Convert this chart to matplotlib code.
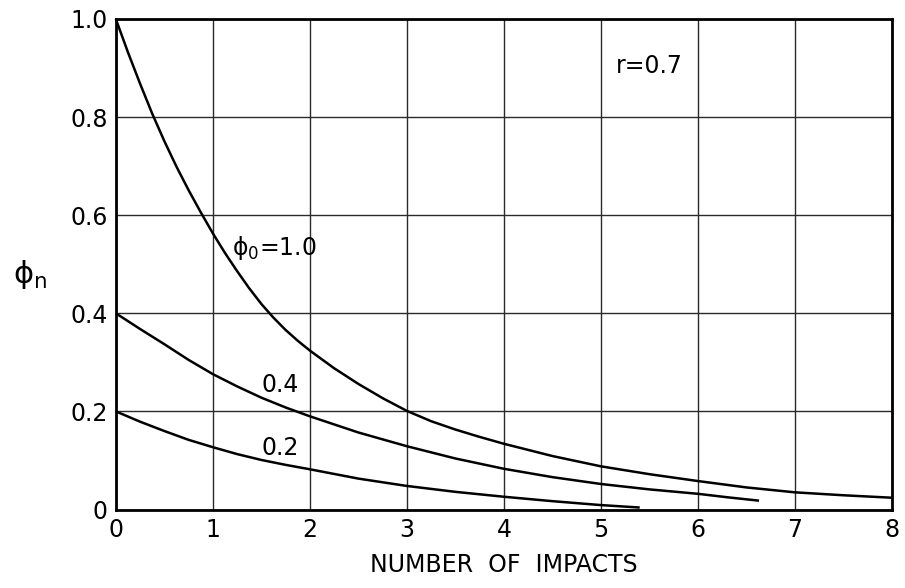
import matplotlib
matplotlib.use("Agg")
import matplotlib.pyplot as plt

plt.rcParams['font.family'] = ['DejaVu Sans']
plt.rcParams['mathtext.fontset'] = 'dejavusans'

# phi_0 = 1.0 curve
x_10 = [0, 0.125, 0.25, 0.375, 0.5, 0.625, 0.75, 0.875, 1.0, 1.125, 1.25, 1.375, 1.5, 1.625, 1.75, 1.875,
        2.0, 2.25, 2.5, 2.75, 3.0, 3.25, 3.5, 3.75, 4.0, 4.5, 5.0, 5.5, 6.0, 6.5, 7.0, 7.5, 8.0]
y_10 = [1.0, 0.932, 0.868, 0.807, 0.751, 0.699, 0.651, 0.606, 0.563, 0.523, 0.486, 0.451, 0.419, 0.391, 0.366, 0.344,
        0.324, 0.288, 0.256, 0.227, 0.201, 0.180, 0.163, 0.148, 0.134, 0.109, 0.088, 0.072, 0.058, 0.045, 0.035, 0.029, 0.024]

# phi_0 = 0.4 curve
x_04 = [0, 0.25, 0.5, 0.75, 1.0, 1.25, 1.5, 1.75, 2.0, 2.5, 3.0, 3.5, 4.0, 4.5, 5.0, 5.5, 6.0, 6.3, 6.63]
y_04 = [0.40, 0.368, 0.337, 0.305, 0.276, 0.251, 0.228, 0.208, 0.190, 0.157, 0.129, 0.104, 0.083, 0.066, 0.052, 0.041, 0.032, 0.025, 0.018]

# phi_0 = 0.2 curve
x_02 = [0, 0.25, 0.5, 0.75, 1.0, 1.25, 1.5, 1.75, 2.0, 2.5, 3.0, 3.5, 4.0, 4.5, 5.0, 5.4]
y_02 = [0.20, 0.179, 0.160, 0.142, 0.127, 0.113, 0.101, 0.091, 0.082, 0.063, 0.048, 0.036, 0.026, 0.017, 0.009, 0.004]

x_ticks = [0, 1, 2, 3, 4, 5, 6, 7, 8]
x_ticklabels = ['0', '1', '2', '3', '4', '5', '6', '7', '8']
y_ticks = [0, 0.2, 0.4, 0.6, 0.8, 1.0]
y_ticklabels = ['0', '0.2', '0.4', '0.6', '0.8', '1.0']

fig = plt.figure(figsize=(9.05, 5.88), dpi=100)
ax = fig.add_axes([0.128, 0.1335, 0.8576, 0.8342])

ax.set_xlim(0, 8)
ax.set_ylim(0, 1.0)
ax.set_xticks(x_ticks)
ax.set_xticklabels(x_ticklabels, fontsize=17)
ax.set_yticks(y_ticks)
ax.set_yticklabels(y_ticklabels, fontsize=17)
ax.tick_params(length=0, pad=6)
ax.grid(True, color='#2a2a2a', linewidth=1.0)
ax.set_axisbelow(True)
for s in ax.spines.values():
    s.set_linewidth(2.0)
    s.set_color('black')

for xs, ys in [(x_10, y_10), (x_04, y_04), (x_02, y_02)]:
    ax.plot(xs, ys, color='black', linewidth=1.8, solid_capstyle='butt',
            solid_joinstyle='round', clip_on=False)

ax.text(1.2, 0.533, r'$\mathrm{\phi_0}$=1.0', fontsize=17, va='center', ha='left')
ax.text(1.5, 0.254, '0.4', fontsize=17, va='center', ha='left')
ax.text(1.5, 0.125, '0.2', fontsize=17, va='center', ha='left')
ax.text(5.5, 0.905, 'r=0.7', fontsize=17, va='center', ha='center')

ax.set_xlabel('NUMBER  OF  IMPACTS', fontsize=17, labelpad=8)
ax.set_ylabel(r'$\mathrm{\phi_n}$', fontsize=22, rotation=0, va='center')
ax.yaxis.set_label_coords(-0.11, 0.48)

fig.savefig('out.png', dpi=100)
